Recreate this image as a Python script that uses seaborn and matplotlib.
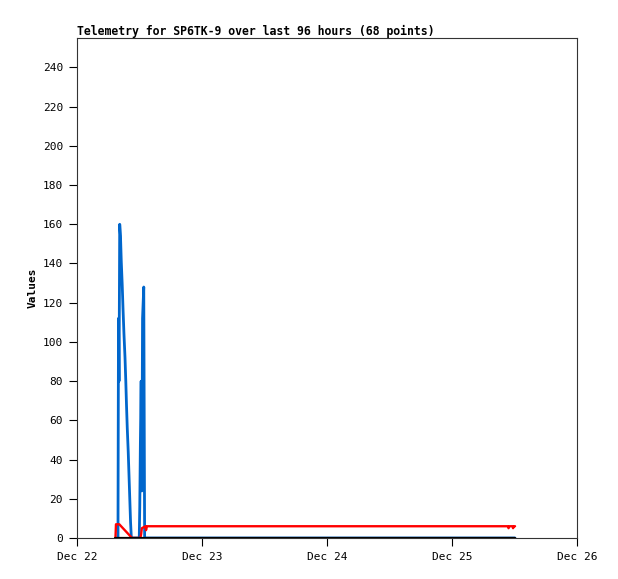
import pandas as pd
import matplotlib
matplotlib.use("Agg")
import matplotlib.pyplot as plt
import matplotlib.dates as mdates
import seaborn as sns

# ------------------- DATOS ------------------- #

blue_times = [
    "2023-12-22 07:52", "2023-12-22 07:58", "2023-12-22 08:04", "2023-12-22 08:12",
    "2023-12-22 08:21", "2023-12-22 08:30", "2023-12-22 08:41", "2023-12-22 08:50",
    "2023-12-22 09:01", "2023-12-22 09:13", "2023-12-22 09:22", "2023-12-22 09:30",
    "2023-12-22 09:39", "2023-12-22 09:50", "2023-12-22 09:59", "2023-12-22 10:08",
    "2023-12-22 10:17", "2023-12-22 10:26", "2023-12-22 11:57", "2023-12-22 12:03",
    "2023-12-22 12:10", "2023-12-22 12:19", "2023-12-22 12:27", "2023-12-22 12:35",
    "2023-12-22 12:49", "2023-12-22 12:59", "2023-12-25 12:06",
]
blue_values = [
    0, 112, 80, 160, 154, 141, 129, 117, 104, 92, 80, 68, 56, 44, 32, 20, 8, 0,
    0, 16, 48, 80, 24, 112, 128, 0, 0,
]

red_times = [
    "2023-12-22 07:23", "2023-12-22 07:29", "2023-12-22 08:07", "2023-12-22 10:34",
    "2023-12-22 12:10", "2023-12-22 12:19", "2023-12-22 12:27", "2023-12-22 13:09",
    "2023-12-22 13:15", "2023-12-22 13:26", "2023-12-25 10:45", "2023-12-25 10:51",
    "2023-12-25 11:02", "2023-12-25 11:37", "2023-12-25 11:43", "2023-12-25 11:54",
    "2023-12-25 12:06",
]
red_values = [0, 7, 7, 0, 0, 2, 5, 6, 4, 6, 6, 5, 6, 6, 5, 6, 6]

black_times = ["2023-12-22 07:23", "2023-12-25 12:06"]
black_values = [0, 0]

# ------------------- GRÁFICA ------------------- #

sns.set_theme(style="ticks")
plt.rcParams["font.family"] = ["DejaVu Sans Mono"]
plt.rcParams["text.color"] = "black"
plt.rcParams["axes.labelcolor"] = "black"

fig = plt.figure(figsize=(6.18, 5.79), dpi=100)
ax = fig.add_axes([0.1246, 0.0708, 0.8091, 0.8636])

for times, values, color, lw in [
    (blue_times, blue_values, "#0066cc", 2.0),
    (red_times, red_values, "#ff0000", 1.7),
    (black_times, black_values, "#000000", 1.6),
]:
    df = pd.DataFrame({"time": pd.to_datetime(times), "value": values})
    sns.lineplot(data=df, x="time", y="value", color=color, linewidth=lw,
                 estimator=None, sort=False, ax=ax)

ax.set_xlim(pd.Timestamp("2023-12-22"), pd.Timestamp("2023-12-26"))
ax.set_ylim(0, 255)
ax.set_yticks(range(0, 241, 20))
ax.xaxis.set_major_locator(mdates.DayLocator())
ax.xaxis.set_major_formatter(mdates.DateFormatter("%b %d"))

for side in ["top", "right", "left", "bottom"]:
    ax.spines[side].set_visible(True)
    ax.spines[side].set_color("#333333")
    ax.spines[side].set_linewidth(0.8)

ax.tick_params(axis="both", direction="out", length=6, width=0.8,
               labelsize=8, color="#000000", labelcolor="#000000", pad=4)

ax.set_xlabel("")
ax.set_ylabel("Values", fontsize=8, fontweight="bold", labelpad=4)
ax.set_title("Telemetry for SP6TK-9 over last 96 hours (68 points)",
             loc="left", fontsize=8.3, fontweight="bold", pad=2, color="black")

plt.savefig("out.png", dpi=100)
plt.close()
